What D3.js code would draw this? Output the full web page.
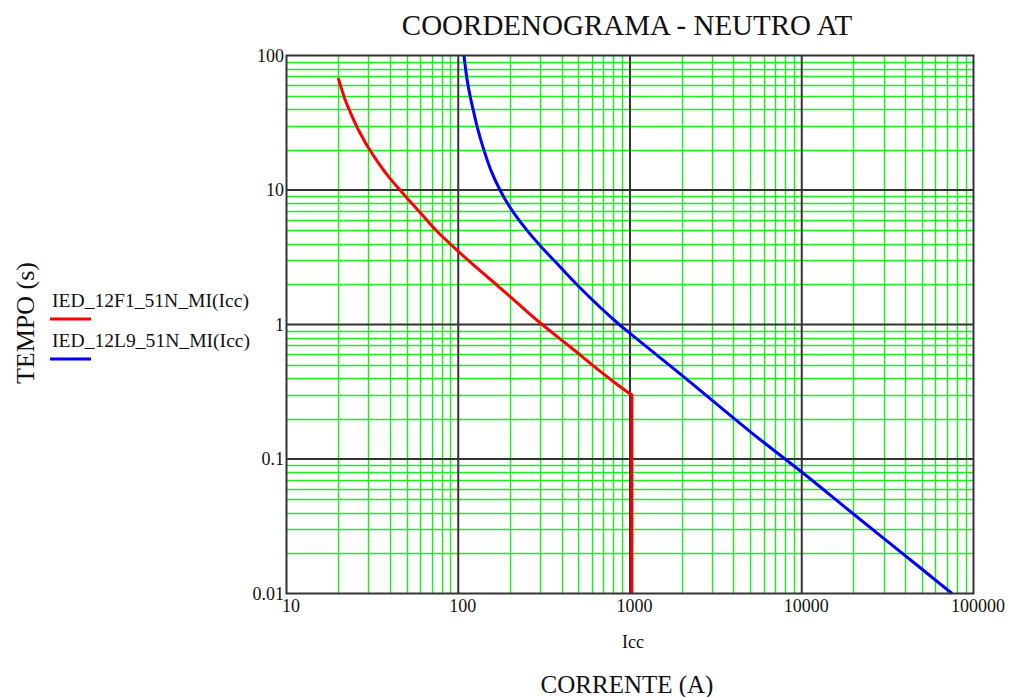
<!DOCTYPE html>
<html><head><meta charset="utf-8">
<script src="https://cdn.jsdelivr.net/npm/d3@7"></script>
<style>body{margin:0;background:#fff}svg{display:block}text{font-family:"Liberation Serif","Times New Roman",serif}</style>
</head><body>
<script>
const xTicks = [10, 100, 1000, 10000, 100000];
const xTickLabels = ["10", "100", "1000", "10000", "100000"];
const yTicks = [0.01, 0.1, 1, 10, 100];
const yTickLabels = ["0.01", "0.1", "1", "10", "100"];
// IED_12F1_51N_MI(Icc): current (A), time (s) — curve part
const redI = [20, 21, 22, 23.6, 25.7, 28, 30, 35, 40, 45.8, 50, 60, 74.5, 100, 130, 173, 230, 308, 450, 641, 850, 1000];
const redT = [68, 55.5, 46.5, 37.5, 29.5, 24, 20.6, 15.3, 12.2, 10, 8.8, 6.8, 5, 3.5, 2.6, 1.9, 1.38, 1, 0.68, 0.47, 0.355, 0.305];
// instantaneous step of the red curve
const redStepI = [1000, 1025, 1025];
const redStepT = [0.305, 0.3, 0.01];
// IED_12L9_51N_MI(Icc)
const blueI = [108, 111, 114, 118, 123, 128, 139, 155, 175, 193, 215, 255, 303, 370, 506, 865, 1000, 2000, 5000, 10000, 20000, 50000, 75000];
const blueT = [100, 75, 60, 48, 38, 30.5, 21, 14, 10, 8, 6.5, 4.9, 3.8, 2.9, 1.9, 1, 0.86, 0.42, 0.16, 0.08, 0.039, 0.0152, 0.01];
const seriesNames = ["IED_12F1_51N_MI(Icc)", "IED_12L9_51N_MI(Icc)"];
const seriesColors = ["#ff0000", "#0000ff"];

const W = 1009, H = 697;
const svg = d3.select("body").append("svg").attr("width", W).attr("height", H);
const x = d3.scaleLog().domain([10, 100000]).range([286.5, 973.5]);
const y = d3.scaleLog().domain([0.01, 100]).range([593.5, 55.5]);

const minorX = [], minorY = [];
for (let d = 10; d < 100000; d *= 10) for (let k = 2; k <= 9; k++) minorX.push(d * k);
for (let d = 0.01; d < 100; d *= 10) for (let k = 2; k <= 9; k++) minorY.push(+(d * k).toPrecision(3));

const g = svg.append("g");
const green = "#1aee1a";
g.selectAll(".mx").data(minorX).enter().append("line")
  .attr("x1", d => Math.round(x(d)) + 0.5).attr("x2", d => Math.round(x(d)) + 0.5)
  .attr("y1", y(100)).attr("y2", y(0.01)).attr("stroke", green).attr("stroke-width", 1.4);
g.selectAll(".my").data(minorY).enter().append("line")
  .attr("y1", d => Math.round(y(d)) + 0.5).attr("y2", d => Math.round(y(d)) + 0.5)
  .attr("x1", x(10)).attr("x2", x(100000)).attr("stroke", green).attr("stroke-width", 1.4);
g.selectAll(".Mx").data(xTicks.slice(1, -1)).enter().append("line")
  .attr("x1", d => x(d)).attr("x2", d => x(d))
  .attr("y1", y(100)).attr("y2", y(0.01)).attr("stroke", "#333").attr("stroke-width", 2);
g.selectAll(".My").data(yTicks.slice(1, -1)).enter().append("line")
  .attr("y1", d => y(d)).attr("y2", d => y(d))
  .attr("x1", x(10)).attr("x2", x(100000)).attr("stroke", "#333").attr("stroke-width", 2);

const smooth = d3.line().x(d => x(d[0])).y(d => y(d[1])).curve(d3.curveCatmullRom.alpha(0.5));
const straight = d3.line().x(d => x(d[0])).y(d => y(d[1]));
const redPts = redI.map((v, i) => [v, redT[i]]);
const redStep = redStepI.map((v, i) => [v, redStepT[i]]);
const bluePts = blueI.map((v, i) => [v, blueT[i]]);
g.append("path").attr("d", smooth(redPts) + straight(redStep).replace(/^M/, "L")).attr("fill", "none")
  .attr("stroke", seriesColors[0]).attr("stroke-width", 3).attr("stroke-linejoin", "round");
g.append("path").attr("d", smooth(bluePts)).attr("fill", "none")
  .attr("stroke", seriesColors[1]).attr("stroke-width", 3).attr("stroke-linejoin", "round");

svg.append("rect").attr("x", x(10)).attr("y", y(100))
  .attr("width", x(100000) - x(10)).attr("height", y(0.01) - y(100))
  .attr("fill", "none").attr("stroke", "#333").attr("stroke-width", 2);

const xAxis = d3.axisBottom(x).tickValues(xTicks).tickFormat((d, i) => xTickLabels[i]).tickSize(0).tickPadding(0);
const xa = svg.append("g").attr("transform", "translate(4,599)").call(xAxis);
xa.select(".domain").remove();
xa.selectAll("text").attr("font-size", 18).attr("fill", "#111").attr("dy", "0.71em")
  .style("font-family", '"Liberation Serif", serif');
const yAxis = d3.axisLeft(y).tickValues(yTicks).tickFormat((d, i) => yTickLabels[i]).tickSize(0).tickPadding(0);
const ya = svg.append("g").attr("transform", "translate(284,0)").call(yAxis);
ya.select(".domain").remove();
ya.selectAll("text").attr("font-size", 18).attr("fill", "#111")
  .style("font-family", '"Liberation Serif", serif');

svg.append("text").attr("x", 627).attr("y", 35).attr("text-anchor", "middle")
  .attr("font-size", 29).attr("fill", "#111").text("COORDENOGRAMA - NEUTRO AT");
svg.append("text").attr("x", 633).attr("y", 648).attr("text-anchor", "middle")
  .attr("font-size", 18).attr("fill", "#111").text("Icc");
svg.append("text").attr("x", 627).attr("y", 693).attr("text-anchor", "middle")
  .attr("font-size", 25).attr("fill", "#111").text("CORRENTE (A)");
svg.append("text").attr("transform", "translate(34,323) rotate(-90)").attr("text-anchor", "middle")
  .attr("font-size", 26).attr("fill", "#111").text("TEMPO (s)");

const leg = svg.append("g");
seriesNames.forEach((n, i) => {
  const by = 306.5 + i * 40;
  leg.append("text").attr("x", 52).attr("y", by).attr("font-size", 19.6).attr("fill", "#111").text(n);
  leg.append("line").attr("x1", 50).attr("x2", 91).attr("y1", by + 12.5).attr("y2", by + 12.5)
    .attr("stroke", seriesColors[i]).attr("stroke-width", 3);
});
</script>
</body></html>
